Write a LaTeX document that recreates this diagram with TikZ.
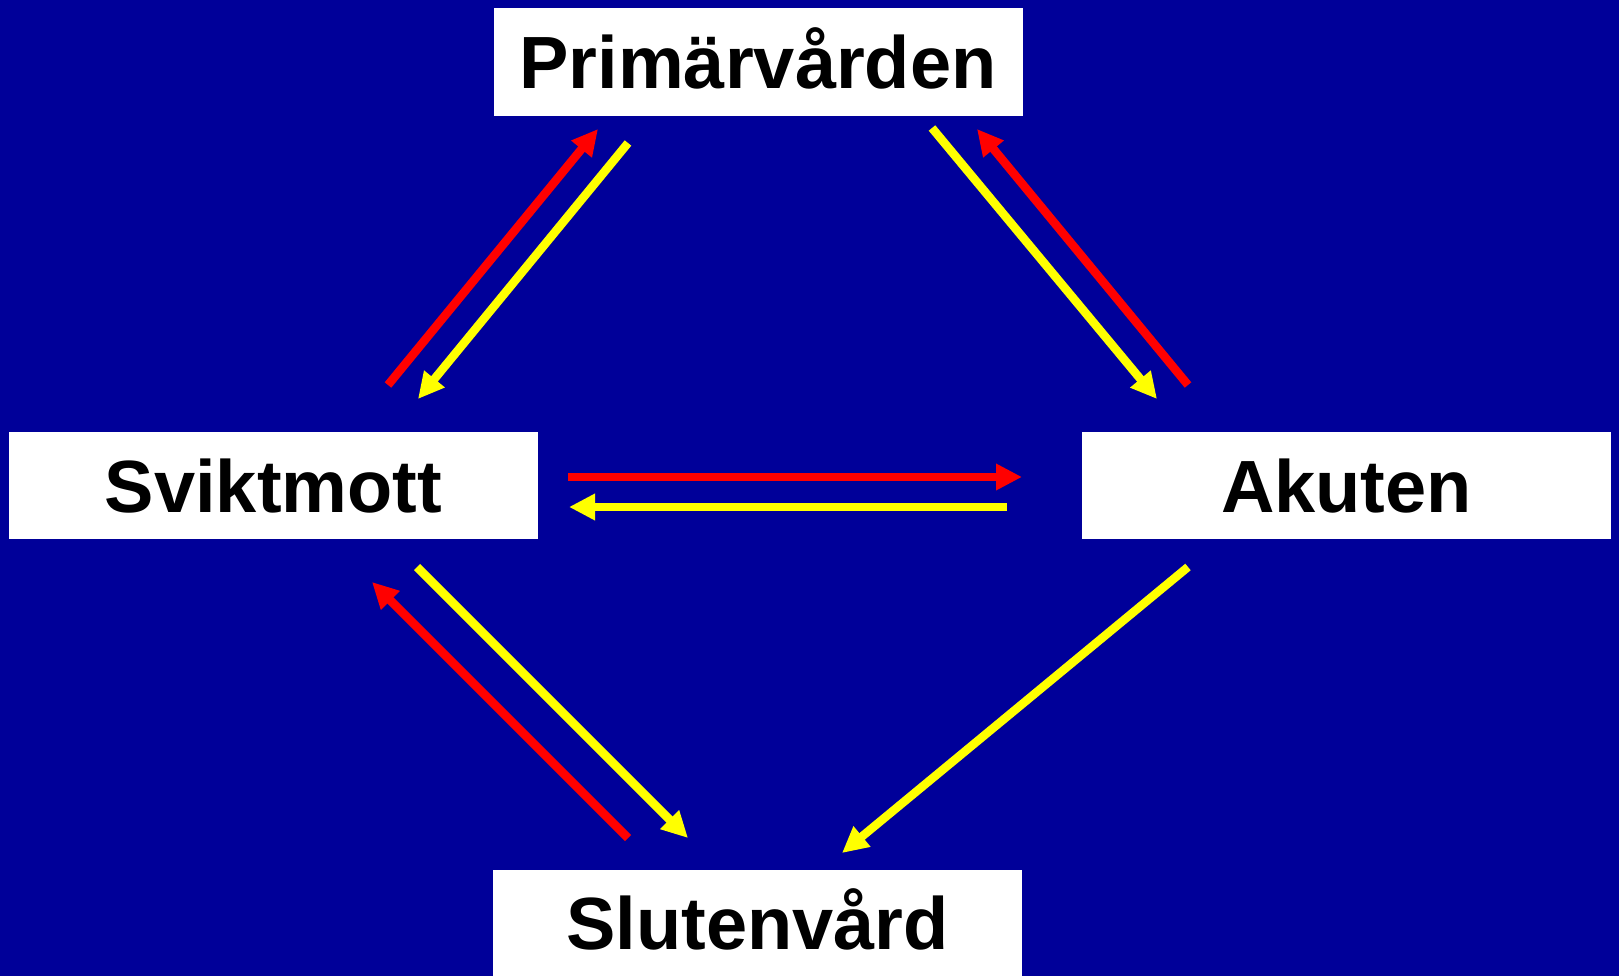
\documentclass[tikz,border=0pt]{standalone}
\usepackage{fontspec}
\setmainfont{Liberation Sans}
\usetikzlibrary{arrows.meta}
\definecolor{bgblue}{RGB}{0,0,153}
\definecolor{arrred}{RGB}{255,0,0}
\definecolor{arryel}{RGB}{255,255,0}
\tikzset{
  box/.style={rectangle, fill=white, inner sep=0pt, minimum width=529pt, minimum height=107pt,
    font=\fontsize{74}{80}\selectfont\bfseries, text height=53pt, text depth=0pt, text=black},
  flow/.style={line width=8.5pt, line cap=butt},
  redflow/.style={flow, draw=arrred, arrows={-{Triangle[length=26pt,width=25pt,fill=arrred]}}},
  yelflow/.style={flow, draw=arryel, arrows={-{Triangle[length=26pt,width=25pt,fill=arryel]}}}
}
\begin{document}
\begin{tikzpicture}[x=1pt,y=-1pt]
\useasboundingbox (0,0) rectangle (1619,976);
\fill[bgblue] (0,0) rectangle (1619,976);
\node[box, minimum height=108pt] (prim) at (758,62) {Primärvården};
\node[box] (svikt) at (273.5,485.5) {Sviktmott};
\node[box] (akut) at (1346.5,485.5) {Akuten};
\node[box, minimum height=106pt] (sluten) at (757.5,923) {Slutenvård};
% endpoints
\coordinate (sp1) at (388,385);  \coordinate (ps1) at (598,129);
\coordinate (ps2) at (628,143);  \coordinate (sp2) at (418,399);
\coordinate (pa1) at (932,128);  \coordinate (ap1) at (1157,399);
\coordinate (ap2) at (1188,385); \coordinate (pa2) at (977,129);
\coordinate (sa1) at (568,477);  \coordinate (as1) at (1022,477);
\coordinate (as2) at (1007,507); \coordinate (sa2) at (569,507);
\coordinate (sl1) at (417,567);  \coordinate (ls1) at (688,838);
\coordinate (ls2) at (628,838);  \coordinate (sl2) at (372,582);
\coordinate (al1) at (1188,567); \coordinate (la1) at (842,853);
\draw[redflow] (sp1) -- (ps1);
\draw[yelflow] (ps2) -- (sp2);
\draw[yelflow] (pa1) -- (ap1);
\draw[redflow] (ap2) -- (pa2);
\draw[redflow] (sa1) -- (as1);
\draw[yelflow] (as2) -- (sa2);
\draw[yelflow] (sl1) -- (ls1);
\draw[redflow] (ls2) -- (sl2);
\draw[yelflow] (al1) -- (la1);
\end{tikzpicture}
\end{document}
